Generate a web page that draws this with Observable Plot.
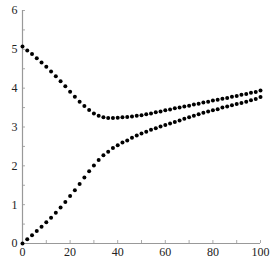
<!DOCTYPE html>
<html>
<head>
<meta charset="utf-8">
<script src="https://cdn.jsdelivr.net/npm/d3@7"></script>
<script src="https://cdn.jsdelivr.net/npm/@observablehq/plot@0.6"></script>
<style>
  html, body { margin: 0; padding: 0; background: #fff; }
  #chart svg text { font-family: "Liberation Serif", "Times New Roman", serif !important; }
</style>
</head>
<body>
<div id="chart"></div>
<script>
const xValues = [0,2,4,6,8,10,12,14,16,18,20,22,24,26,28,30,32,34,36,38,40,42,44,46,48,
  50,52,54,56,58,60,62,64,66,68,70,72,74,76,78,80,82,84,86,88,90,92,94,96,98,100];
const upperSeries = [5.07,4.97,4.88,4.77,4.66,4.55,4.43,4.31,4.18,4.05,3.91,3.78,3.65,3.54,3.44,3.35,3.29,3.25,3.23,3.23,3.24,3.25,3.26,3.27,3.29,
  3.30,3.33,3.35,3.38,3.40,3.43,3.45,3.48,3.50,3.53,3.55,3.58,3.60,3.63,3.65,3.68,3.70,3.73,3.75,3.78,3.80,3.83,3.85,3.88,3.90,3.94];
const lowerSeries = [0,0.11,0.21,0.32,0.43,0.55,0.66,0.79,0.93,1.07,1.22,1.37,1.53,1.70,1.86,2.01,2.15,2.27,2.36,2.46,2.53,2.60,2.65,2.72,2.78,
  2.83,2.88,2.93,2.97,3.01,3.05,3.09,3.13,3.17,3.21,3.25,3.29,3.33,3.37,3.40,3.43,3.46,3.50,3.53,3.56,3.59,3.62,3.65,3.69,3.72,3.77];
const xTickLabels = [0,20,40,60,80,100];
const xMinorTicks = [0,10,20,30,40,50,60,70,80,90,100];
const yTickLabels = [0,1,2,3,4,5,6];
const yMinorTicks = [0,0.5,1,1.5,2,2.5,3,3.5,4,4.5,5,5.5,6];

const points = [];
xValues.forEach((x, i) => {
  points.push({x, y: upperSeries[i], series: "upper"});
  points.push({x, y: lowerSeries[i], series: "lower"});
});

const serif = "Liberation Serif";
const chart = Plot.plot({
  width: 273,
  height: 273,
  marginLeft: 22,
  marginRight: 13,
  marginTop: 10,
  marginBottom: 30,
  x: {domain: [0, 100], label: null},
  y: {domain: [0, 6], label: null},
  style: {fontFamily: serif, fontSize: "12px", background: "#fff", color: "#222"},
  marks: [
    Plot.axisX({ticks: xMinorTicks, tickSize: -3, tickFormat: () => "", label: null, stroke: "#aaa"}),
    Plot.axisY({ticks: yMinorTicks, tickSize: -3, tickFormat: () => "", label: null, stroke: "#aaa"}),
    Plot.axisX({ticks: xTickLabels, tickSize: 0, tickPadding: 4, tickFormat: d3.format("d"), label: null, fill: "#222", fontFamily: serif, fontSize: 12}),
    Plot.axisY({ticks: yTickLabels, tickSize: 0, tickPadding: 5, tickFormat: d3.format("d"), label: null, fill: "#222", fontFamily: serif, fontSize: 12}),
    Plot.ruleY([0], {stroke: "#999", strokeWidth: 1.2}),
    Plot.ruleX([0], {stroke: "#999", strokeWidth: 1.2}),
    Plot.dot(points, {x: "x", y: "y", r: 2, fill: "#000", stroke: null})
  ]
});
document.getElementById("chart").appendChild(chart);
</script>
</body>
</html>
